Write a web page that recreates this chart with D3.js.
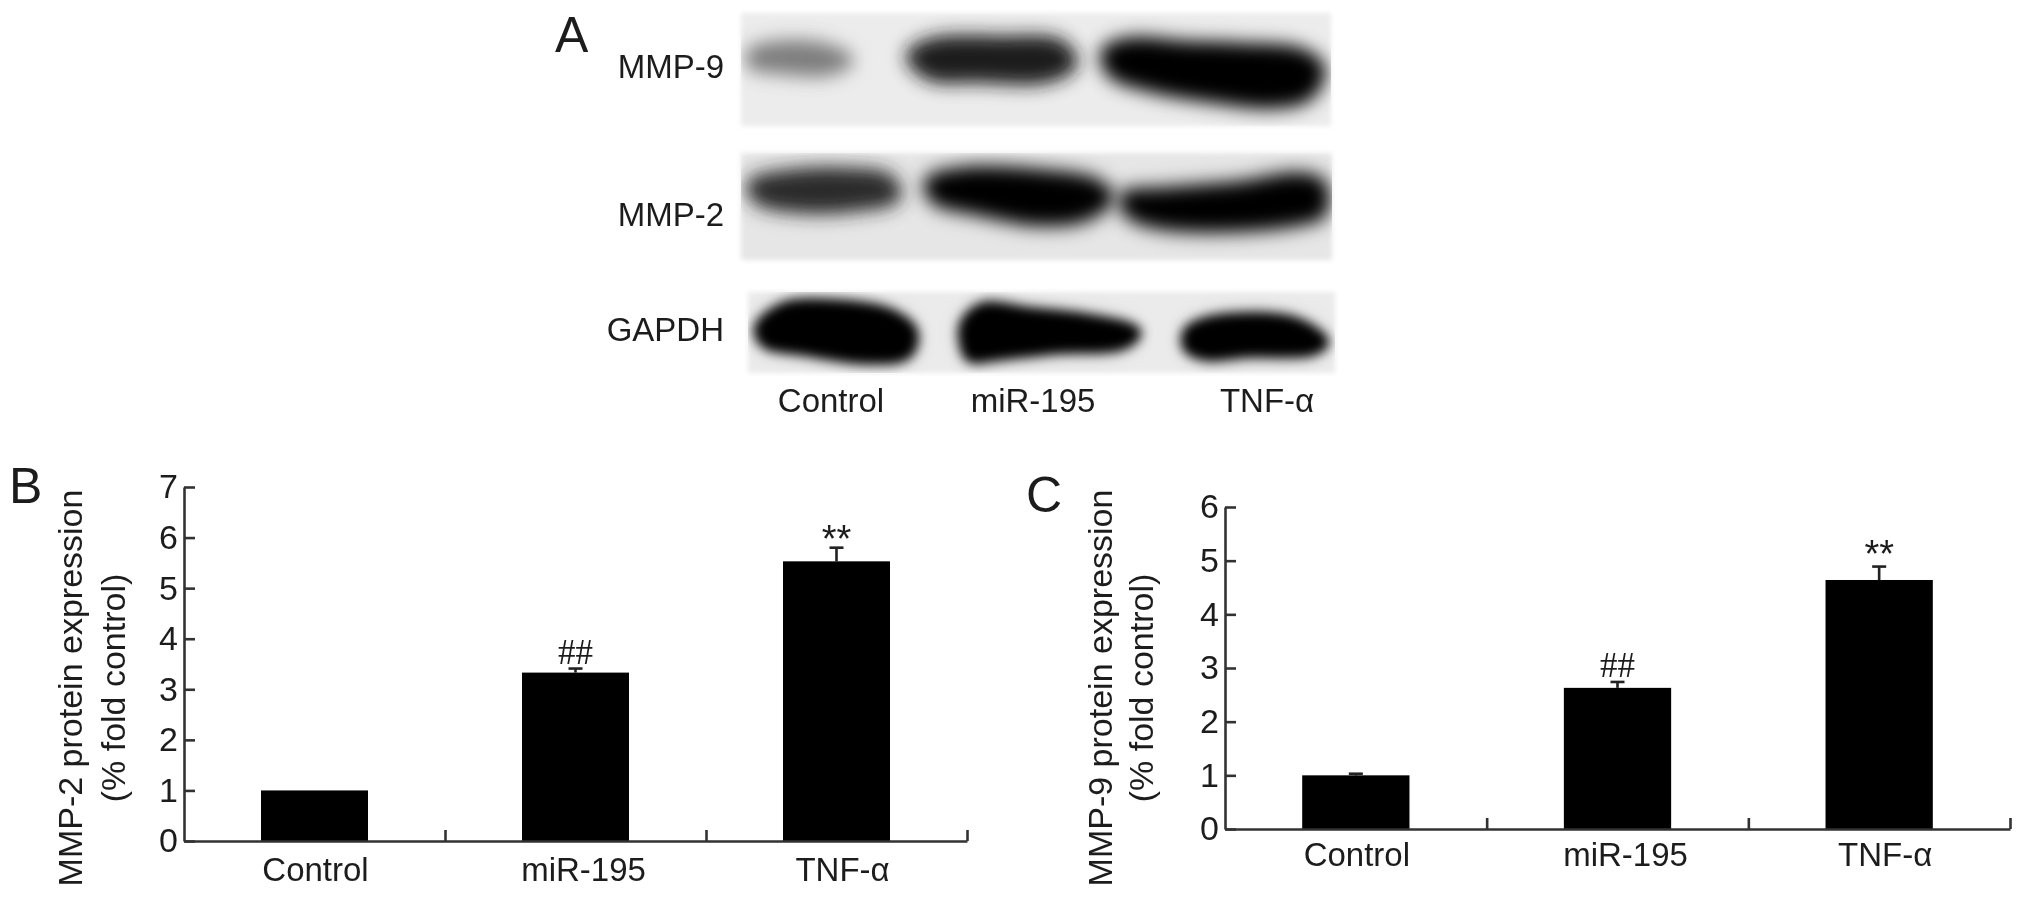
<!DOCTYPE html>
<html>
<head>
<meta charset="utf-8">
<script src="https://unpkg.com/d3@7/dist/d3.min.js"></script>
<style>
  html, body { margin: 0; background: #fff; }
  svg { display: block; }
  text { font-family: "Liberation Sans", sans-serif; fill: #1c1c1c; }
  .axis path, .axis line { stroke: #333; stroke-width: 2.6; }
</style>
</head>
<body>
<div id="figure"></div>
<script>
// chart values
const categories = ["Control", "miR-195", "TNF-α"];
const mmp2Values = [1.0, 3.33, 5.53];
const mmp2Errors = [0, 0.08, 0.27];
const mmp9Values = [1.0, 2.63, 4.64];
const mmp9Errors = [0.03, 0.11, 0.25];
const marks = ["", "##", "**"];
const mmp2Ticks = [0, 1, 2, 3, 4, 5, 6, 7];
const mmp9Ticks = [0, 1, 2, 3, 4, 5, 6];
const proteins = ["MMP-9", "MMP-2", "GAPDH"];
// band darkness read from the blot, 0 = none, 1 = black
const mmp9Density = [0.48, 0.88, 1];
const mmp2Density = [0.82, 0.98, 1];
const gapdhDensity = [1, 1, 1];

const width = 2032;
const height = 907;

const svg = d3.select("#figure").append("svg")
    .attr("width", width)
    .attr("height", height);

const defs = svg.append("defs");

function addBlur(id, dev) {
    defs.append("filter")
        .attr("id", id)
        .attr("x", "-100%").attr("y", "-150%")
        .attr("width", "300%").attr("height", "400%")
        .append("feGaussianBlur")
        .attr("stdDeviation", dev);
}
addBlur("soft", 9);
addBlur("softer", 6);
addBlur("halo", 16);
addBlur("edge", 2.5);

// text and axes only get a light blur, the scan is not sharp
defs.append("filter")
    .attr("id", "ink")
    .attr("filterUnits", "userSpaceOnUse")
    .attr("x", 0).attr("y", 0)
    .attr("width", width).attr("height", height)
    .append("feGaussianBlur")
    .attr("stdDeviation", 0.55);

/* Panel A, the blot strips */
const strips = [
    {box: [741, 1331, 13, 126], density: mmp9Density, blur: "soft", back: "#ececec", haloTone: 0.12, labelY: 66},
    {box: [741, 1332, 153, 260], density: mmp2Density, blur: "soft", back: "#e6e6e6", haloTone: 0.2, labelY: 214},
    {box: [748, 1335, 292, 373], density: gapdhDensity, blur: "softer", back: "#ebebeb", haloTone: 0.1, labelY: 329}
];

// band outlines in percent of the strip, one list per lane
const outlines = [
    [
        [[2, 36], [8, 30], [15, 34], [18, 42], [14, 50], [7, 48], [2, 44]],
        [[29, 38], [33, 27], [44, 26], [54, 29], [56, 44], [52, 56], [40, 56], [32, 54]],
        [[62, 35], [66, 27], [75, 30], [85, 32], [95, 37], [98, 50], [96, 72], [90, 79], [80, 74], [70, 65], [63, 52]]
    ],
    [
        [[2, 30], [8, 22], [18, 20], [25, 26], [26, 40], [20, 48], [10, 50], [3, 42]],
        [[32, 28], [38, 19], [50, 21], [60, 30], [62, 42], [58, 58], [50, 62], [40, 52], [33, 42]],
        [[65, 42], [72, 38], [85, 32], [94, 24], [98, 30], [98, 55], [94, 62], [82, 68], [72, 66], [66, 56]]
    ],
    [
        [[2, 45], [6, 20], [14, 16], [24, 27], [28, 50], [27, 76], [20, 82], [10, 72], [3, 62]],
        [[37, 40], [40, 20], [48, 26], [58, 34], [66, 50], [64, 64], [52, 70], [42, 78], [38, 80], [37, 65]],
        [[75, 50], [78, 38], [88, 32], [94, 40], [98, 62], [96, 72], [85, 74], [78, 78], [75, 68]]
    ]
];

const tone = d3.scaleLinear().domain([0, 1]).range(["#f0f0f0", "#000000"]);
const bandPath = d3.line().curve(d3.curveCatmullRomClosed.alpha(0.5));

const panelA = svg.append("g");

strips.forEach((strip, i) => {
    const [x0, x1, y0, y1] = strip.box;
    const clipId = "strip" + i;
    const stripX = d3.scaleLinear().domain([0, 100]).range([x0, x1]);
    const stripY = d3.scaleLinear().domain([0, 100]).range([y0, y1]);

    defs.append("clipPath").attr("id", clipId)
        .append("rect")
        .attr("x", x0).attr("y", y0)
        .attr("width", x1 - x0).attr("height", y1 - y0);

    panelA.append("rect")
        .attr("x", x0).attr("y", y0)
        .attr("width", x1 - x0).attr("height", y1 - y0)
        .attr("fill", strip.back)
        .attr("filter", "url(#edge)");

    const g = panelA.append("g").attr("clip-path", `url(#${clipId})`);

    strip.density.forEach((d, lane) => {
        const pts = outlines[i][lane].map(p => [stripX(p[0]), stripY(p[1])]);
        g.append("path")
            .attr("d", bandPath(pts))
            .attr("fill", "#000")
            .attr("opacity", strip.haloTone)
            .attr("filter", "url(#halo)");
        g.append("path")
            .attr("d", bandPath(pts))
            .attr("fill", tone(d))
            .attr("stroke", tone(d))
            .attr("stroke-width", 12)
            .attr("filter", `url(#${strip.blur})`);
    });
});

const ink = svg.append("g").attr("filter", "url(#ink)");

ink.selectAll(".protein")
    .data(proteins)
    .enter().append("text")
    .attr("class", "protein")
    .attr("x", 724)
    .attr("y", (d, i) => strips[i].labelY + 12)
    .attr("text-anchor", "end")
    .attr("font-size", 33)
    .text(d => d);

ink.selectAll(".lane")
    .data(categories)
    .enter().append("text")
    .attr("class", "lane")
    .attr("x", (d, i) => [831, 1033, 1267][i])
    .attr("y", 412)
    .attr("text-anchor", "middle")
    .attr("font-size", 33)
    .text(d => d);

/* Panels B and C, the bar charts */
function drawBars(opts) {
    const xBand = d3.scaleBand()
        .domain(categories)
        .range([opts.left, opts.right])
        .paddingInner(0.59)
        .paddingOuter(0.295);
    const xEdge = d3.scaleLinear().domain([0, 3]).range([opts.left, opts.right]);
    const y = d3.scaleLinear()
        .domain([0, d3.max(opts.ticks)])
        .range([opts.bottom, opts.top]);
    const center = d => xBand(d) + xBand.bandwidth() / 2;

    const g = ink.append("g");

    // only bars with a readable error get a whisker
    const withError = categories
        .map((c, i) => ({c: c, value: opts.values[i], err: opts.errors[i]}))
        .filter(d => d.err > 0);

    g.selectAll(".err")
        .data(withError)
        .enter().append("line")
        .attr("x1", d => center(d.c))
        .attr("x2", d => center(d.c))
        .attr("y1", d => y(d.value))
        .attr("y2", d => y(d.value + d.err))
        .attr("stroke", "#222").attr("stroke-width", 2.6);

    g.selectAll(".cap")
        .data(withError)
        .enter().append("line")
        .attr("x1", d => center(d.c) - 7)
        .attr("x2", d => center(d.c) + 7)
        .attr("y1", d => y(d.value + d.err))
        .attr("y2", d => y(d.value + d.err))
        .attr("stroke", "#222").attr("stroke-width", 2.6);

    g.selectAll(".bar")
        .data(categories)
        .enter().append("rect")
        .attr("class", "bar")
        .attr("x", d => xBand(d))
        .attr("y", (d, i) => y(opts.values[i]))
        .attr("width", xBand.bandwidth())
        .attr("height", (d, i) => opts.bottom - y(opts.values[i]))
        .attr("fill", "#000");

    // y axis, ticks point inward
    const yAxis = d3.axisLeft(y)
        .tickValues(opts.ticks)
        .tickFormat(d3.format("d"))
        .tickSize(-11)
        .tickSizeOuter(0)
        .tickPadding(6);
    const yG = g.append("g")
        .attr("class", "axis")
        .attr("transform", `translate(${opts.left},0)`)
        .call(yAxis);
    yG.selectAll("text").attr("font-size", 34);
    yG.attr("font-family", null);

    // x axis, ticks sit between the bars and point up
    g.append("g")
        .attr("class", "axis")
        .attr("transform", `translate(0,${opts.bottom})`)
        .call(d3.axisBottom(xEdge).ticks(3).tickSize(-11).tickSizeOuter(0).tickFormat(""))
        .selectAll(".tick")
        .filter(d => d === 0)
        .remove();

    const xLabels = g.append("g")
        .attr("transform", `translate(0,${opts.bottom})`)
        .call(d3.axisBottom(xBand).tickSize(0).tickPadding(opts.labelPad));
    xLabels.attr("font-family", null);
    xLabels.select(".domain").remove();
    xLabels.selectAll("text")
        .attr("font-size", 33)
        .attr("dx", (d, i) => [1, 8, 6][i]);

    g.selectAll(".mark")
        .data(marks)
        .enter().append("text")
        .attr("class", "mark")
        .attr("x", (d, i) => center(categories[i]))
        .attr("y", (d, i) => y(opts.values[i] + opts.errors[i]) + (d === "##" ? -5 : opts.starShift))
        .attr("text-anchor", "middle")
        .attr("font-size", d => d === "##" ? 35 : 38)
        .style("font-family", d => d === "##" ? "Liberation Serif" : "Liberation Sans")
        .text(d => d);

    opts.title.forEach((line, i) => {
        g.append("text")
            .attr("transform", `translate(${opts.titleX[i]},688) rotate(-90)`)
            .attr("text-anchor", "middle")
            .attr("font-size", 34)
            .text(line);
    });
}

drawBars({
    left: 184, right: 967, top: 487, bottom: 841,
    values: mmp2Values, errors: mmp2Errors, ticks: mmp2Ticks,
    title: ["MMP-2 protein expression", "(% fold control)"],
    titleX: [82, 125],
    labelPad: 17, starShift: 4
});

drawBars({
    left: 1225, right: 2010, top: 507, bottom: 829,
    values: mmp9Values, errors: mmp9Errors, ticks: mmp9Ticks,
    title: ["MMP-9 protein expression", "(% fold control)"],
    titleX: [1112, 1153],
    labelPad: 14, starShift: 0
});

/* Panel letters */
const letters = [["A", 555, 52], ["B", 9, 503], ["C", 1026, 512]];
ink.selectAll(".letter")
    .data(letters)
    .enter().append("text")
    .attr("class", "letter")
    .attr("x", d => d[1])
    .attr("y", d => d[2])
    .attr("font-size", 50)
    .text(d => d[0]);
</script>
</body>
</html>
